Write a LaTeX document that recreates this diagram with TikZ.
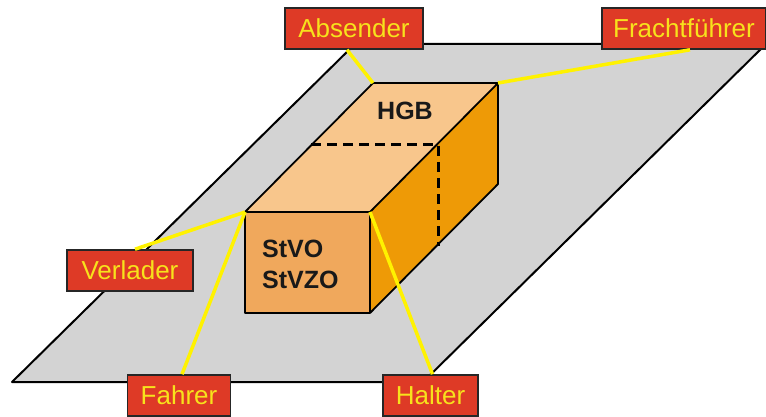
\documentclass[tikz,border=0pt]{standalone}
\usepackage{fontspec}
\setmainfont{Liberation Sans}
\definecolor{floorgray}{HTML}{D3D3D3}
\definecolor{topface}{HTML}{F8C68C}
\definecolor{frontface}{HTML}{F0A85C}
\definecolor{sideface}{HTML}{EE9A06}
\definecolor{labred}{HTML}{DE3A26}
\definecolor{labtext}{HTML}{F7E21C}
\definecolor{linkyellow}{HTML}{FFF200}
\begin{document}
\begin{tikzpicture}[x=1pt,y=-1pt,
  edge/.style={draw=black,line width=1.8pt,line join=round},
  lab/.style={draw=black!85,line width=1.6pt,fill=labred,text=labtext,
    font=\fontsize{26}{30}\selectfont,minimum height=41pt,inner sep=0pt},
  link/.style={draw=linkyellow,line width=3.5pt},
  boxtext/.style={text=black!90,font=\bfseries\fontsize{25}{29}\selectfont,inner sep=0pt}]
\useasboundingbox (0,0) rectangle (766,417);
% floor
\filldraw[fill=floorgray,draw=black,line width=2pt,line join=round]
  (12,382) -- (423,382) -- (766,44) -- (355,44) -- cycle;
% cube corners
\coordinate (ftl) at (245,212);
\coordinate (ftr) at (370,212);
\coordinate (fbl) at (245,313);
\coordinate (fbr) at (370,313);
\coordinate (btl) at (373,83);
\coordinate (btr) at (498,83);
\coordinate (bbr) at (498,184);
% faces
\fill[topface] (ftl) -- (ftr) -- (btr) -- (btl) -- cycle;
\fill[sideface] (ftr) -- (btr) -- (bbr) -- (fbr) -- cycle;
\fill[frontface] (ftl) -- (ftr) -- (fbr) -- (fbl) -- cycle;
\draw[edge] (ftl) -- (ftr) -- (fbr) -- (fbl) -- cycle;
\draw[edge] (ftl) -- (btl) -- (btr) -- (ftr);
\draw[edge] (btr) -- (bbr) -- (fbr);
% dashed division
\coordinate (dl) at (311,145);
\coordinate (dc) at (438,145);
\coordinate (db) at (438,246);
\draw[black,line width=3pt,dash pattern=on 10pt off 6pt] (dl) -- (dc) -- (db);
% box texts
\node[boxtext] (hgb) at (405,111) {HGB};
\node[boxtext,anchor=base west] (stvo) at (262,257) {StVO};
\node[boxtext,anchor=base west] (stvzo) at (262,288) {StVZO};
% labels
\node[lab,minimum width=138pt] (absender) at (354,28.5) {Absender};
\node[lab,minimum width=164pt] (fracht) at (684,28.5) {Frachtführer};
\node[lab,minimum width=126pt] (verlader) at (130,270.5) {Verlader};
\node[lab,minimum width=103pt] (fahrer) at (179,395.5) {Fahrer};
\node[lab,minimum width=95pt] (halter) at (430.5,395.5) {Halter};
% connectors
\draw[link] ([xshift=-7pt]absender.south) -- (btl);
\draw[link] ([xshift=6pt]fracht.south) -- (btr);
\draw[link] ([xshift=5pt]verlader.north) -- (ftl);
\draw[link] ([xshift=3pt]fahrer.north) -- (ftl);
\draw[link] ([xshift=2pt]halter.north) -- (ftr);
\end{tikzpicture}
\end{document}
